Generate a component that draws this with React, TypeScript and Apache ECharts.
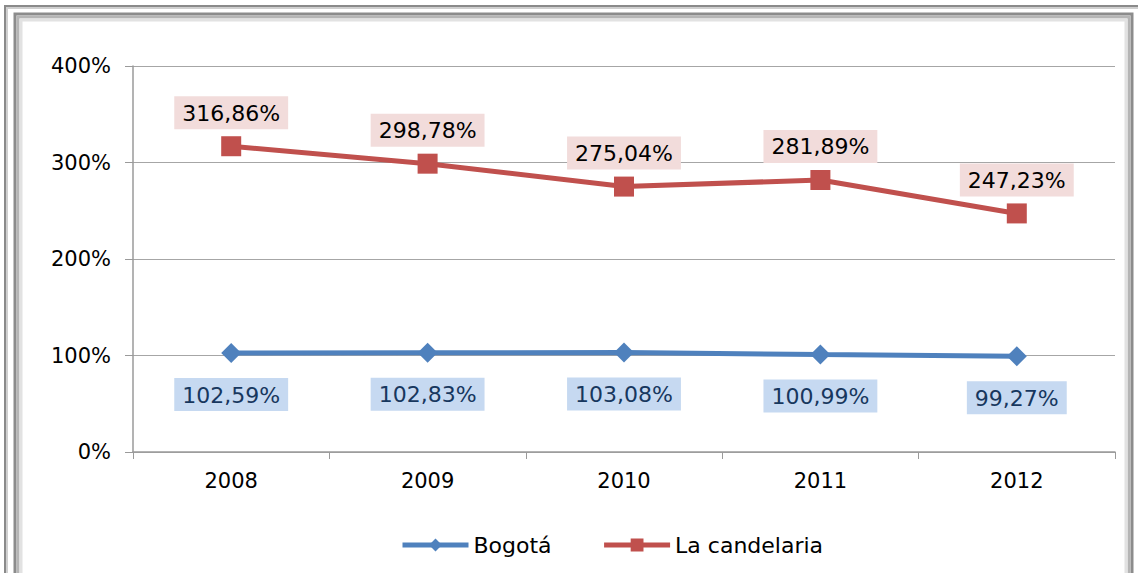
import React, { useEffect, useRef } from "react";
import * as echarts from "echarts";

const categories = ["2008", "2009", "2010", "2011", "2012"];
const bogota = [102.59, 102.83, 103.08, 100.99, 99.27];
const candelaria = [316.86, 298.78, 275.04, 281.89, 247.23];
const seriesNames = ["Bogotá", "La candelaria"];

const FONT = "DejaVu Sans";
const fmt = (v: number) => v.toFixed(2).replace(".", ",") + "%";

export default function App() {
  const ref = useRef<HTMLDivElement>(null);
  useEffect(() => {
    document.body.style.margin = "0";
    const chart = echarts.init(ref.current!, null, { renderer: "svg" });
    chart.setOption({
      animation: false,
      backgroundColor: "#ffffff",
      graphic: [
        { type: "rect", shape: { x: 5, y: 6, width: 1150, height: 600 }, style: { fill: "none", stroke: "#8a8a8a", lineWidth: 2 } },
        { type: "rect", shape: { x: 7, y: 8, width: 1150, height: 600 }, style: { fill: "none", stroke: "#cfcfcf", lineWidth: 2 } },
        { type: "rect", shape: { x: 15, y: 14, width: 1117, height: 600 }, style: { fill: "none", stroke: "#8c8c8c", lineWidth: 3 } },
        { type: "rect", shape: { x: 18, y: 17, width: 1111, height: 600 }, style: { fill: "none", stroke: "#b5b5b5", lineWidth: 3 } },
        { type: "rect", shape: { x: 21, y: 20, width: 1105, height: 600 }, style: { fill: "none", stroke: "#e2e2e2", lineWidth: 3 } },
      ],
      grid: { left: 133, right: 23, top: 66, bottom: 121 },
      legend: {
        bottom: 12,
        left: 395,
        itemWidth: 66,
        itemHeight: 16,
        itemGap: 50,
        data: seriesNames,
        lineStyle: { width: 5 },
        textStyle: { fontFamily: FONT, fontSize: 22, color: "#000" },
      },
      xAxis: {
        type: "category",
        data: categories,
        boundaryGap: true,
        axisLine: { lineStyle: { color: "#9a9a9a", width: 1.5 } },
        axisTick: { show: true, length: 7, lineStyle: { color: "#9a9a9a" } },
        axisLabel: { fontFamily: FONT, fontSize: 21, color: "#000", margin: 18 },
      },
      yAxis: {
        type: "value",
        min: 0,
        max: 400,
        interval: 100,
        axisLine: { show: true, lineStyle: { color: "#9a9a9a", width: 1.5 } },
        axisTick: { show: true, length: 8, lineStyle: { color: "#9a9a9a" } },
        splitLine: { lineStyle: { color: "#a6a6a6", width: 1.2 } },
        axisLabel: { fontFamily: FONT, fontSize: 21, color: "#000", margin: 22, formatter: "{value}%" },
      },
      series: [
        {
          name: seriesNames[0],
          type: "line",
          data: bogota,
          symbol: "diamond",
          symbolSize: 20,
          lineStyle: { color: "#4f81bd", width: 5 },
          itemStyle: { color: "#4f81bd" },
          label: {
            show: true,
            position: "bottom",
            distance: 15,
            formatter: (p: any) => fmt(p.value),
            fontFamily: FONT,
            fontSize: 22,
            color: "#17375e",
            backgroundColor: "#c6d9f1",
            padding: [6, 8, 5, 8],
          },
          z: 3,
        },
        {
          name: seriesNames[1],
          type: "line",
          data: candelaria,
          symbol: "rect",
          symbolSize: 20,
          lineStyle: { color: "#c0504d", width: 5 },
          itemStyle: { color: "#c0504d" },
          label: {
            show: true,
            position: "top",
            distance: 7,
            formatter: (p: any) => fmt(p.value),
            fontFamily: FONT,
            fontSize: 22,
            color: "#000",
            backgroundColor: "#f2dcdb",
            padding: [6, 8, 5, 8],
          },
          z: 3,
        },
      ],
    });
    return () => chart.dispose();
  }, []);
  return <div ref={ref} style={{ width: 1138, height: 573 }} />;
}
